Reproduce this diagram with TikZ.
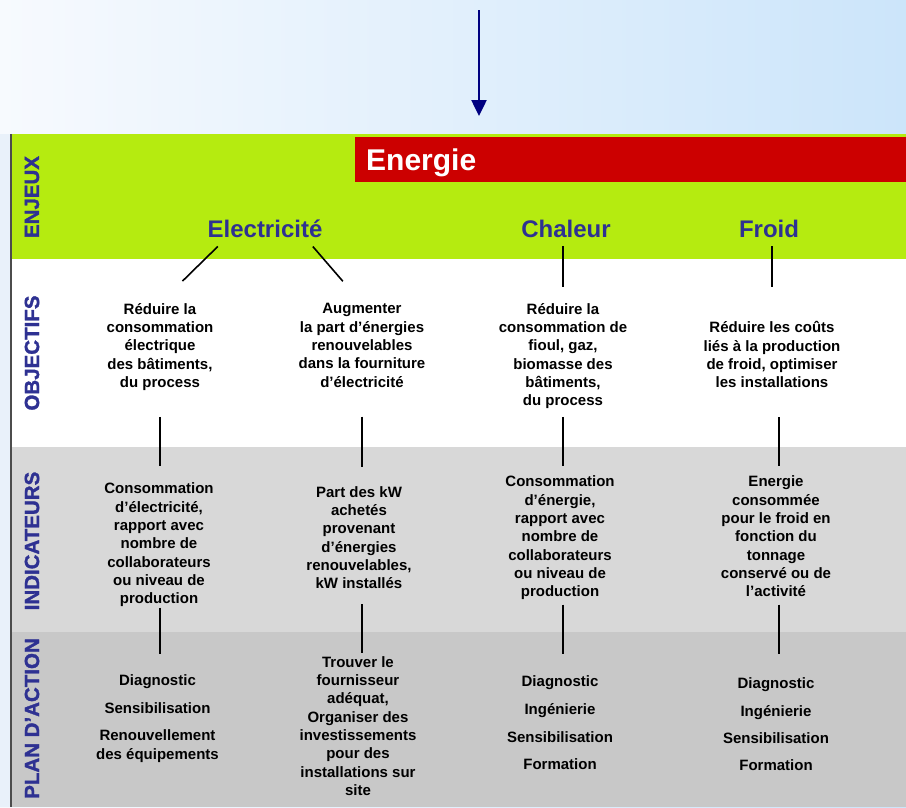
\documentclass[tikz,border=0pt]{standalone}
\usepackage{fontspec}
\setmainfont{Liberation Sans}
\newfontfamily\heavysans[BoldFeatures={FakeBold=1.5}]{Liberation Sans}
\usetikzlibrary{arrows.meta}
\definecolor{bgleft}{RGB}{247,250,254}
\definecolor{bgmid}{RGB}{238,246,253}
\definecolor{bgright}{RGB}{204,229,250}
\definecolor{stripblue}{RGB}{233,241,250}
\definecolor{enjeuxgreen}{RGB}{181,235,16}
\definecolor{energyred}{RGB}{204,0,0}
\definecolor{indgray}{RGB}{216,216,216}
\definecolor{plangray}{RGB}{200,200,200}
\definecolor{titleblue}{RGB}{46,49,146}
\definecolor{arrownavy}{RGB}{0,0,128}
\tikzset{
    %Define standard arrow tip
    >={Triangle[width=15pt,length=16pt]},
    %Define style for row titles
    rowtitle/.style={
           rotate=90,
           inner sep=0pt,
           text=titleblue,
           font=\fontsize{20.5}{24}\selectfont\heavysans\bfseries},
    %Define style for themes
    theme/.style={
           anchor=base,
           inner sep=0pt,
           text=titleblue,
           font=\fontsize{24}{28}\selectfont\bfseries},
    %Define style for text cells
    cell/.style={
           align=center,
           inner sep=0pt,
           font=\fontsize{15}{18.3}\selectfont\bfseries},
    % Define connector style
    link/.style={
           line width=1.6pt}
}
\begin{document}
\begin{tikzpicture}[x=1pt, y=-1pt]
 \useasboundingbox (0,0) rectangle (906,807);
 %bands
    \shade[left color=bgleft, middle color=bgmid, right color=bgright] (0,0) rectangle (906,807);
    \fill[stripblue] (0,134) rectangle (10,807);
    \fill[enjeuxgreen] (12,134) rectangle (906,259);
    \fill[white] (12,259) rectangle (906,447);
    \fill[indgray] (12,447) rectangle (906,632);
    \fill[plangray] (12,632) rectangle (906,807);
    \fill[energyred] (355,137) rectangle (906,182);
    \draw[line width=2pt, gray!60!black] (11,134) -- (11,807);
 %nodes
    \coordinate (src) at (479,10);
    \coordinate (tip) at (479,116);
    \node[anchor=base west, inner sep=0pt, text=white, font=\fontsize{30}{34}\selectfont\bfseries] (energie) at (366,170) {Energie};
    \node[rowtitle] (enjeux) at (32,197) {ENJEUX};
    \node[rowtitle] (objectifs) at (32,353) {OBJECTIFS};
    \node[rowtitle] (indicateurs) at (32,541) {INDICATEURS};
    \node[rowtitle, anchor=east] (plan) at (32,638) {PLAN D’ACTION};
    \node[theme] (elec) at (265,237) {Electricité};
    \node[theme] (chaleur) at (566,237) {Chaleur};
    \node[theme] (froid) at (769,237) {Froid};
    \node[cell] (obj1) at (160,347) {Réduire la\\consommation\\électrique\\des bâtiments,\\du process};
    \node[cell] (obj2) at (362,345.5) {Augmenter\\la part d’énergies\\renouvelables\\dans la fourniture\\d’électricité};
    \node[cell] (obj3) at (563,356.1) {Réduire la\\consommation de\\fioul, gaz,\\biomasse des\\bâtiments,\\du process};
    \node[cell] (obj4) at (772,354.9) {Réduire les coûts\\liés à la production\\de froid, optimiser\\les installations};
    \node[cell] (ind1) at (159,545) {Consommation\\d’électricité,\\rapport avec\\nombre de\\collaborateurs\\ou niveau de\\production};
    \node[cell] (ind2) at (359,537.5) {Part des kW\\achetés\\provenant\\d’énergies\\renouvelables,\\kW installés};
    \node[cell] (ind3) at (560,538) {Consommation\\d’énergie,\\rapport avec\\nombre de\\collaborateurs\\ou niveau de\\production};
    \node[cell] (ind4) at (776,536.5) {Energie\\consommée\\pour le froid en\\fonction du\\tonnage\\conservé ou de\\l’activité};
    \node[cell] (act1) at (157.5,718.6) {Diagnostic\\[9.2pt]Sensibilisation\\[9.2pt]Renouvellement\\des équipements};
    \node[cell] (act2) at (358,726) {Trouver le\\fournisseur\\adéquat,\\Organiser des\\investissements\\pour des\\installations sur\\site};
    \node[cell] (act3) at (560,723) {Diagnostic\\[9.4pt]Ingénierie\\[9.4pt]Sensibilisation\\[9.4pt]Formation};
    \node[cell] (act4) at (776,724.5) {Diagnostic\\[9pt]Ingénierie\\[9pt]Sensibilisation\\[9pt]Formation};
    \coordinate (axis4) at ([xshift=7pt]obj4.south);
 %edges
    \draw[->, line width=2.5pt, arrownavy] (src) -- (tip);
    \draw[link, shorten <=12.9pt, shorten >=31.5pt] ([xshift=-38pt]elec.south) -- (obj1.north);
    \draw[link, shorten <=12pt, shorten >=29.3pt] ([xshift=40pt]elec.south) -- (obj2.north);
    \draw[link, shorten <=9pt, shorten >=16pt] (chaleur.south -| obj3.north) -- (obj3.north);
    \draw[link, shorten <=9pt, shorten >=34.7pt] (froid.south -| obj4.north) -- (obj4.north);
    \draw[link, shorten <=26pt, shorten >=16.5pt] (obj1.south) -- (obj1.south |- ind1.north);
    \draw[link, shorten <=29pt, shorten >=19.5pt] (obj2.south) -- (obj2.south |- ind2.north);
    \draw[link, shorten <=7.8pt, shorten >=9.5pt] (obj3.south) -- (obj3.south |- ind3.north);
    \draw[link, shorten <=29pt, shorten >=9.5pt] (axis4) -- (axis4 |- ind4.north);
    \draw[link, shorten <=0.5pt, shorten >=21pt] (ind1.south -| obj1.south) -- (act1.north -| obj1.south);
    \draw[link, shorten <=15.5pt, shorten >=3pt] (ind2.south -| obj2.south) -- (act2.north -| obj2.south);
    \draw[link, shorten <=4.5pt, shorten >=22pt] (ind3.south -| obj3.south) -- (act3.north -| obj3.south);
    \draw[link, shorten <=7.5pt, shorten >=24pt] (ind4.south -| axis4) -- (act4.north -| axis4);
  \end{tikzpicture}
\end{document}
